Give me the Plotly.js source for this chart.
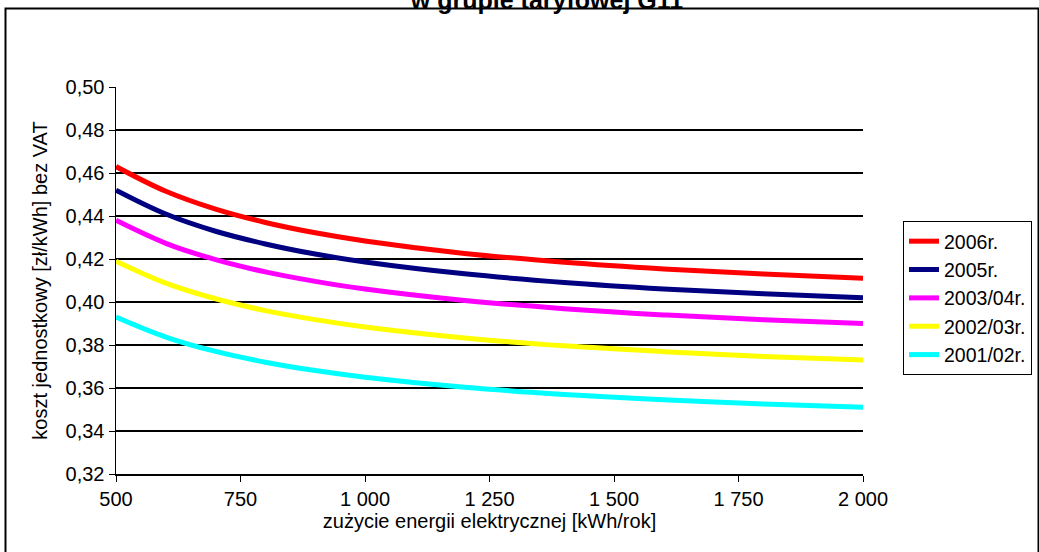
<!DOCTYPE html>
<html>
<head>
<meta charset="utf-8">
<script src="https://cdn.plot.ly/plotly-3.0.1.min.js"></script>
<style>html,body{margin:0;padding:0;background:#fff;}#chart{width:1039px;height:552px;}</style>
</head>
<body>
<div id="chart"></div>
<script>
const usage = [500, 600, 700, 800, 900, 1000, 1200, 1400, 1600, 1800, 2000];
const seriesNames = ['2006r.', '2005r.', '2003/04r.', '2002/03r.', '2001/02r.'];
const cost2006 = [0.463, 0.4515, 0.4432, 0.4370, 0.4322, 0.4284, 0.4226, 0.4185, 0.4154, 0.4130, 0.4110];
const cost2005 = [0.452, 0.4409, 0.4329, 0.4270, 0.4223, 0.4186, 0.4131, 0.4091, 0.4061, 0.4038, 0.4020];
const cost2003 = [0.438, 0.4273, 0.4197, 0.4140, 0.4096, 0.4060, 0.4007, 0.3969, 0.3940, 0.3918, 0.3900];
const cost2002 = [0.419, 0.4088, 0.4015, 0.3960, 0.3918, 0.3884, 0.3833, 0.3796, 0.3769, 0.3747, 0.3730];
const cost2001 = [0.393, 0.3837, 0.3770, 0.3720, 0.3681, 0.3650, 0.3603, 0.3570, 0.3545, 0.3526, 0.3510];
const seriesColors = ['#ff0000', '#000080', '#ff00ff', '#ffff00', '#00ffff'];
const xTicks = [500, 750, 1000, 1250, 1500, 1750, 2000];

const allSeries = [cost2006, cost2005, cost2003, cost2002, cost2001];
const traces = allSeries.map((ys, i) => ({
  x: usage, y: ys, name: seriesNames[i], type: 'scatter', mode: 'lines',
  line: {color: seriesColors[i], width: 5, shape: 'spline', smoothing: 1}
}));

const L = 116, R = 863, T = 87, B = 474, W = 1039, H = 552;
const pw = R - L, ph = B - T;
const px = v => (v - L) / pw;
const py = v => 1 - (v - T) / ph;

const fam = 'Liberation Sans, Arial, sans-serif';
const font = {family: fam, size: 20, color: '#000'};
const layout = {
  width: W, height: H,
  separators: ', ',
  paper_bgcolor: '#fff', plot_bgcolor: '#fff',
  margin: {l: L, r: W - R, t: T, b: H - B, pad: 0, autoexpand: false},
  font: font,
  title: {
    text: '<b>w grupie taryfowej G11</b>',
    font: {family: fam, size: 25, color: '#000'},
    x: 547 / W, xanchor: 'center', xref: 'container',
    y: 1 - 9 / H, yanchor: 'bottom', yref: 'container'
  },
  xaxis: {
    range: [500, 2000], tickvals: xTicks, tickformat: ',d',
    showgrid: false, zeroline: false, automargin: false,
    showline: true, linecolor: '#000', linewidth: 1.5,
    ticks: 'outside', ticklen: 6, tickcolor: '#000', tickwidth: 1,
    tickfont: font,
    title: {text: 'zużycie energii elektrycznej [kWh/rok]', font: font, standoff: 4}
  },
  yaxis: {
    range: [0.32, 0.50], dtick: 0.02, tick0: 0.32, tickformat: '.2f',
    showgrid: true, gridcolor: '#000', gridwidth: 1.5, zeroline: false, automargin: false,
    showline: true, linecolor: '#000', linewidth: 1.5,
    ticks: 'outside', ticklen: 6, tickcolor: '#000', tickwidth: 1,
    tickfont: font,
    title: {text: 'koszt jednostkowy [zł/kWh] bez VAT', font: font, standoff: 12}
  },
  showlegend: true,
  legend: {
    x: px(903), y: py(221), xanchor: 'left', yanchor: 'top',
    bordercolor: '#000', borderwidth: 1, bgcolor: '#fff',
    font: {family: fam, size: 19.5, color: '#000'},
    tracegroupgap: 0, itemwidth: 30
  },
  shapes: [{
    type: 'rect', xref: 'paper', yref: 'paper',
    x0: px(5.5), x1: px(1038.5), y0: py(570), y1: py(8.5),
    line: {color: '#000', width: 2}, fillcolor: 'rgba(0,0,0,0)', layer: 'below'
  }]
};

Plotly.newPlot('chart', traces, layout, {displayModeBar: false, staticPlot: true});
</script>
</body>
</html>
